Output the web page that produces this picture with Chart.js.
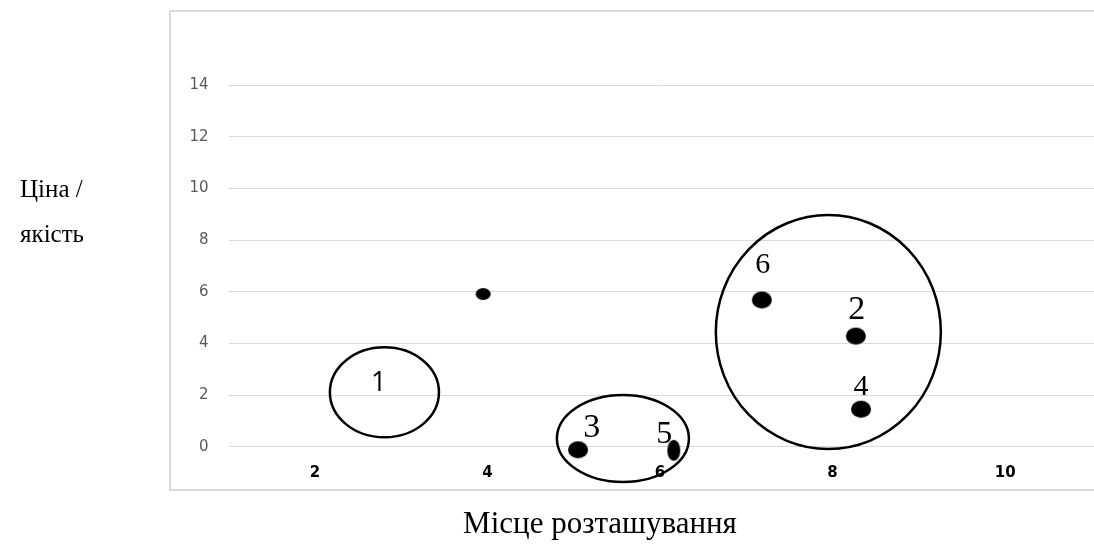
<!DOCTYPE html>
<html>
<head>
<meta charset="utf-8">
<script src="https://cdn.jsdelivr.net/npm/chart.js@4"></script>
<style>
  html, body { margin: 0; padding: 0; background: #ffffff; }
  #wrap { width: 1094px; height: 550px; position: relative; }
</style>
</head>
<body>
<div id="wrap"><canvas id="c" width="1094" height="550"></canvas></div>
<script>
// ---- data ----
const xTicks = [2, 4, 6, 8, 10];
const yTicks = [0, 2, 4, 6, 8, 10, 12, 14];
const pointX = [3.95, 7.18, 8.27, 8.33, 5.05, 6.16];
const pointY = [5.91, 5.68, 4.28, 1.45, -0.12, -0.14];
const labelText = ['1', '2', '3', '4', '5', '6'];
const labelX = [2.74, 8.28, 5.21, 8.33, 6.05, 7.19];
const labelY = [2.45, 5.27, 0.71, 2.31, 0.48, 7.03];
const groupCX = [2.806, 5.570, 7.951];
const groupCY = [2.105, 0.317, 4.439];
const groupRX = [0.632, 0.765, 1.304];
const groupRY = [1.74, 1.683, 4.528];
const xTitle = 'Місце розташування';
const yTitle = ['Ціна /', 'якість'];

// ---- styles ----
function ellipseDot(w, h) {
  const c = document.createElement('canvas');
  c.width = w + 2; c.height = h + 2;
  const g = c.getContext('2d');
  g.fillStyle = '#000';
  g.beginPath();
  g.ellipse((w + 2) / 2, (h + 2) / 2, w / 2, h / 2, 0, 0, Math.PI * 2);
  g.fill();
  return c;
}
const dotSmall = ellipseDot(15, 12);
const dotBig = ellipseDot(20, 17);
const dotTall = ellipseDot(13, 21);
const pointStyles = [dotSmall, dotBig, dotBig, dotBig, dotBig, dotTall];
const labelFonts = ['27px "Open Sans"', '34px "Liberation Serif"', '34px "Liberation Serif"',
                    '30px "Liberation Serif"', '32px "Liberation Serif"', '30px "Liberation Serif"'];

const decorPlugin = {
  id: 'decor',
  beforeDraw(chart) {
    const ctx = chart.ctx;
    ctx.save();
    ctx.strokeStyle = '#d9d9d9';
    ctx.lineWidth = 2;
    ctx.beginPath();
    ctx.moveTo(1094, 11); ctx.lineTo(170, 11); ctx.lineTo(170, 490); ctx.lineTo(1094, 490);
    ctx.stroke();
    ctx.restore();
  },
  afterDatasetsDraw(chart) {
    const ctx = chart.ctx;
    const xs = chart.scales.x, ys = chart.scales.y;
    ctx.save();
    // group ellipses
    ctx.strokeStyle = '#000';
    ctx.lineWidth = 2.5;
    for (let i = 0; i < groupCX.length; i++) {
      const cx = xs.getPixelForValue(groupCX[i]);
      const cy = ys.getPixelForValue(groupCY[i]);
      const rx = Math.abs(xs.getPixelForValue(groupCX[i] + groupRX[i]) - cx);
      const ry = Math.abs(ys.getPixelForValue(groupCY[i] + groupRY[i]) - cy);
      ctx.beginPath();
      ctx.ellipse(cx, cy, rx, ry, 0, 0, Math.PI * 2);
      ctx.stroke();
    }
    // labels
    ctx.fillStyle = '#000';
    ctx.textAlign = 'center';
    ctx.textBaseline = 'middle';
    for (let i = 0; i < labelText.length; i++) {
      ctx.font = labelFonts[i];
      ctx.fillText(labelText[i], xs.getPixelForValue(labelX[i]), ys.getPixelForValue(labelY[i]));
    }
    // axis titles
    ctx.font = '31px "Liberation Serif"';
    ctx.textAlign = 'center';
    ctx.textBaseline = 'alphabetic';
    ctx.fillText(xTitle, 600, 533);
    ctx.font = '25px "Liberation Serif"';
    ctx.textAlign = 'left';
    ctx.fillText(yTitle[0], 20, 197);
    ctx.fillText(yTitle[1], 20, 242);
    ctx.restore();
  }
};

new Chart(document.getElementById('c'), {
  type: 'scatter',
  data: {
    datasets: [{
      data: pointX.map((x, i) => ({ x: x, y: pointY[i] })),
      pointStyle: pointStyles,
      backgroundColor: '#000',
      borderColor: '#000',
      clip: false
    }]
  },
  options: {
    responsive: false,
    animation: false,
    events: [],
    layout: { autoPadding: false, padding: { left: 0, top: 85, right: 0, bottom: 63.3 } },
    plugins: { legend: { display: false }, tooltip: { enabled: false } },
    scales: {
      x: {
        type: 'linear',
        min: 1, max: 11.03,
        afterBuildTicks: s => { s.ticks = xTicks.map(v => ({ value: v })); },
        afterFit: s => { s.height = 40; s.paddingRight = 0; },
        grid: { display: false, drawTicks: false },
        border: { display: false },
        ticks: { color: '#000', padding: 17, font: { family: '"DejaVu Sans"', size: 15, weight: 'bold' } }
      },
      y: {
        type: 'linear',
        min: 0, max: 14,
        afterBuildTicks: s => { s.ticks = yTicks.map(v => ({ value: v })); },
        afterFit: s => { s.width = 228.6; },
        grid: { color: '#d9d9d9', lineWidth: 1, drawTicks: false },
        border: { display: false },
        ticks: { color: '#595959', padding: 20, font: { family: '"DejaVu Sans"', size: 15 } }
      }
    }
  },
  plugins: [decorPlugin]
});
</script>
</body>
</html>
